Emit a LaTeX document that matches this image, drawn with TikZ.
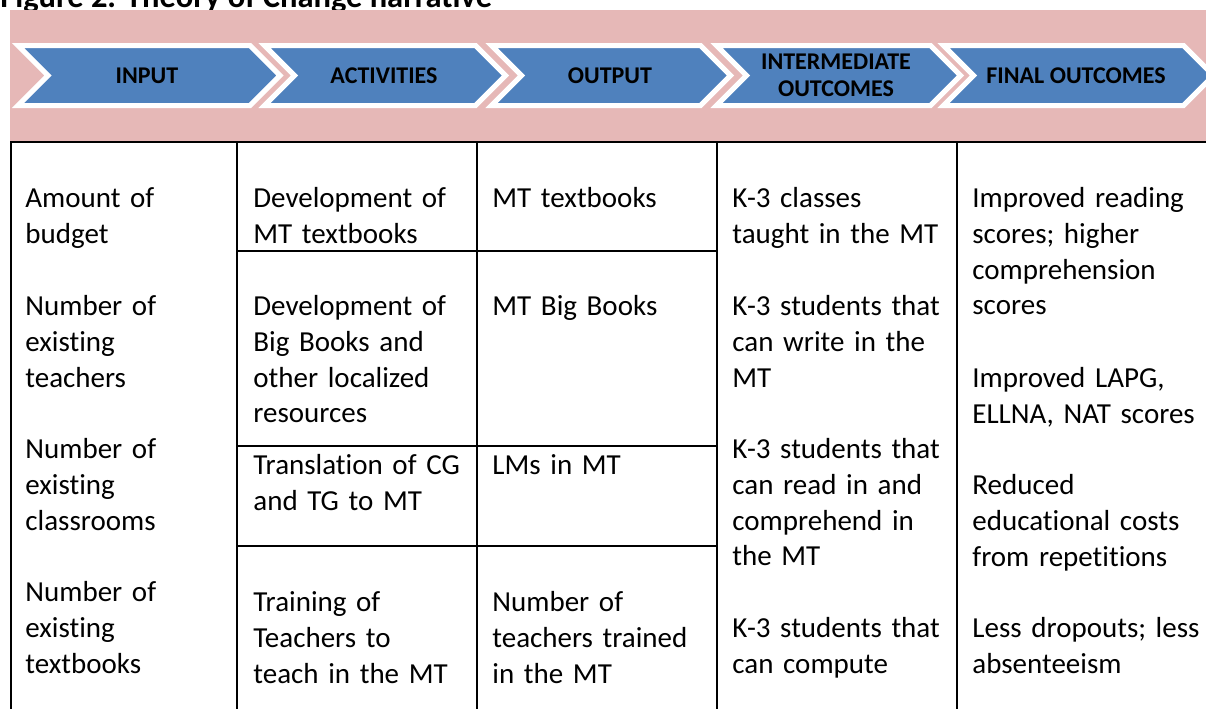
\documentclass[tikz,border=0pt]{standalone}
\usepackage{fontspec}
\setmainfont{Carlito}[Ligatures=NoCommon]
\definecolor{bandpink}{HTML}{E6B8B7}
\definecolor{chevblue}{HTML}{4F81BD}
\newcommand{\bodyfnt}{\fontsize{14.5}{17.9}\selectfont}
\newcommand{\headfnt}{\fontsize{12}{13.5}\selectfont\bfseries}
\newcommand{\titlefnt}{\fontsize{16.25}{19}\selectfont\bfseries}
\begin{document}
\begin{tikzpicture}[x=0.5pt,y=-0.5pt,
  chev/.style={fill=chevblue, draw=white, line width=2.5pt, line join=miter},
  headtext/.style={font=\headfnt, align=center, inner sep=0pt, text=black},
  cell/.style={anchor=north west, inner sep=0pt, align=left, text width=125pt, font=\bodyfnt, execute at begin node=\strut},
  rulel/.style={line width=1pt, black}]
\useasboundingbox (0,0) rectangle (1206,708);
% title (partly hidden at the top)
\node[anchor=base west, inner sep=0pt, font=\titlefnt] (title) at (0,7) {Figure 2. Theory of Change narrative};
% band
\fill[bandpink] (10,10) rectangle (1206,141);
% chevrons
\foreach \L/\R [count=\i] in {18/250, 264.5/475.5, 491.5/700.5, 716.5/930.5, 943.5/1183.5}{
  \draw[chev] (\L,45.5) -- (\R,45.5) -- (\R+30,75.5) -- (\R,105.5) -- (\L,105.5) -- (\L+30,75.5) -- cycle;
}
\node[headtext] (h1) at (147,75.5) {INPUT};
\node[headtext] (h2) at (384,75.5) {ACTIVITIES};
\node[headtext] (h3) at (610,75.5) {OUTPUT};
\node[headtext] (h4) at (836,75.5) {INTERMEDIATE\\OUTCOMES};
\node[headtext] (h5) at (1076,75.5) {FINAL OUTCOMES};
% table rules
\draw[rulel] (10,142) -- (1206,142);
\foreach \x in {11,237,477,717,957}{
  \draw[rulel] (\x,142) -- (\x,710);
}
\foreach \y in {251,446,546}{
  \draw[rulel] (237,\y) -- (717,\y);
}
% column 1
\node[cell] (a1) at (25,182) {Amount of\\budget};
\node[cell] (a2) at (25,290) {Number of\\existing\\teachers};
\node[cell] (a3) at (25,433) {Number of\\existing\\classrooms};
\node[cell] (a4) at (25,576) {Number of\\existing\\textbooks};
% column 2
\node[cell] (b1) at (253,182) {Development of\\MT textbooks};
\node[cell] (b2) at (253,290) {Development of\\Big Books and\\other localized\\resources};
\node[cell] (b3) at (253,449) {Translation of CG\\and TG to MT};
\node[cell] (b4) at (253,586) {Training of\\Teachers to\\teach in the MT};
% column 3
\node[cell] (c1) at (492,182) {MT textbooks};
\node[cell] (c2) at (492,290) {MT Big Books};
\node[cell] (c3) at (492,449) {LMs in MT};
\node[cell] (c4) at (492,586) {Number of\\teachers trained\\in the MT};
% column 4
\node[cell] (d1) at (732,182) {K-3 classes\\taught in the MT};
\node[cell] (d2) at (732,290) {K-3 students that\\can write in the\\MT};
\node[cell] (d3) at (732,433) {K-3 students that\\can read in and\\comprehend in\\the MT};
\node[cell] (d4) at (732,612) {K-3 students that\\can compute};
% column 5
\node[cell] (e1) at (972,182) {Improved reading\\scores; higher\\comprehension\\scores};
\node[cell] (e2) at (972,362) {Improved LAPG,\\ELLNA, NAT scores};
\node[cell] (e3) at (972,469) {Reduced\\educational costs\\from repetitions};
\node[cell] (e4) at (972,612) {Less dropouts; less\\absenteeism};
\end{tikzpicture}
\end{document}
